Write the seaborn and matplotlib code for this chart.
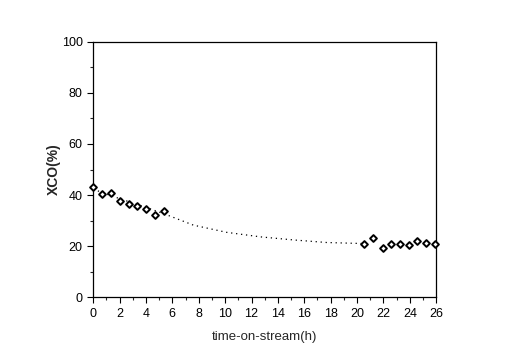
import matplotlib
matplotlib.use("Agg")
import matplotlib.pyplot as plt
import seaborn as sns
import pandas as pd
from matplotlib.ticker import MultipleLocator

# measured data points
time_early = [0.0, 0.70, 1.36, 2.05, 2.68, 3.33, 4.01, 4.72, 5.40]
xco_early = [43.3, 40.3, 40.9, 37.5, 36.3, 35.7, 34.4, 32.3, 33.6]
time_late = [20.55, 21.23, 21.94, 22.59, 23.28, 23.90, 24.56, 25.22, 25.88]
xco_late = [20.8, 23.0, 19.1, 20.8, 20.8, 20.5, 22.0, 21.3, 20.8]

# dotted trend curve
trend_time = [0.0, 1.0, 2.0, 3.0, 4.0, 5.6, 7.6, 10.1, 12.7, 15.2, 17.7, 19.7, 20.5]
trend_xco = [42.3, 40.4, 38.6, 36.9, 35.2, 32.2, 28.2, 25.4, 23.6, 22.4, 21.4, 21.1, 21.0]

xticks = list(range(0, 27, 2))
yticks = [0, 20, 40, 60, 80, 100]

sns.set_style("ticks")
plt.rcParams['font.family'] = ['Liberation Sans', 'DejaVu Sans']

pts = pd.DataFrame({"t": time_early + time_late, "x": xco_early + xco_late})
trend = pd.DataFrame({"t": trend_time, "x": trend_xco})

fig = plt.figure(figsize=(5.12, 3.55), dpi=100)
ax = fig.add_axes([0.182, 0.163, 0.670, 0.719])

sns.lineplot(data=trend, x="t", y="x", ax=ax, color="black", linestyle=(0, (1, 3)),
             linewidth=0.9, sort=True)
sns.scatterplot(data=pts, x="t", y="x", ax=ax, marker="D", s=12, facecolor="white",
                edgecolor="black", linewidth=1.4, zorder=5, clip_on=False)

ax.set_xlim(0, 26)
ax.set_ylim(0, 100)
ax.set_xticks(xticks)
ax.set_yticks(yticks)
ax.xaxis.set_minor_locator(MultipleLocator(1))
ax.yaxis.set_minor_locator(MultipleLocator(10))
ax.tick_params(axis="both", which="major", direction="out", length=4, width=0.8,
               labelsize=9, colors="black")
ax.tick_params(axis="both", which="minor", direction="out", length=2.5, width=0.8)
for s in ax.spines.values():
    s.set_visible(True)
    s.set_color("black")
    s.set_linewidth(0.9)

ax.set_xlabel("time-on-stream(h)", fontsize=9.5, labelpad=8)
ax.set_ylabel("XCO(%)", fontsize=10, fontweight="bold", labelpad=1)

fig.savefig("out.png", dpi=100, facecolor="white")
